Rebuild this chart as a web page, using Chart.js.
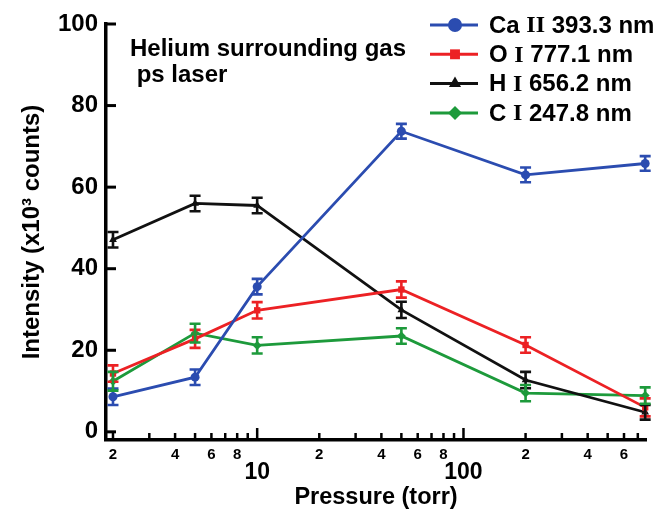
<!DOCTYPE html>
<html>
<head>
<meta charset="utf-8">
<script src="https://cdn.jsdelivr.net/npm/chart.js@4.4.1/dist/chart.umd.min.js"></script>
<style>
  html, body { margin: 0; padding: 0; background: #fff; }
  #wrap { width: 660px; height: 514px; position: relative; }
</style>
</head>
<body>
<div id="wrap"><canvas id="pressureChart" width="660" height="514"></canvas></div>
<script>
// Data
const pressure = [2, 5, 10, 50, 200, 760];
const caII = [8.6, 13.4, 35.6, 73.7, 63.0, 65.8];
const caErr = [2.0, 1.9, 1.9, 1.8, 1.8, 1.8];
const oI = [14.3, 22.8, 29.8, 34.9, 21.3, 6.0];
const oErr = [2.0, 2.2, 2.0, 2.0, 1.9, 2.2];
const hI = [47.1, 56.0, 55.5, 29.9, 12.7, 4.8];
const hErr = [1.9, 1.9, 1.9, 2.0, 2.0, 1.8];
const cI = [12.4, 24.2, 21.2, 23.5, 9.5, 8.9];
const cErr = [2.3, 2.3, 2.0, 1.9, 2.0, 2.0];
const seriesNames = ['Ca II 393.3 nm', 'O I 777.1 nm', 'H I 656.2 nm', 'C I 247.8 nm'];
const yTicks = [0, 20, 40, 60, 80, 100];
const xTicks = [2, 3, 4, 5, 6, 7, 8, 9, 10, 20, 30, 40, 50, 60, 70, 80, 90, 100, 200, 300, 400, 500, 600, 700];
const xSmallLabels = { 2: '2', 4: '4', 6: '6', 8: '8', 20: '2', 40: '4', 60: '6', 80: '8', 200: '2', 400: '4', 600: '6' };
const xDecadeLabels = [10, 100];
const noteLines = ['Helium surrounding gas', ' ps laser'];

const SANS = '"Liberation Sans", Arial, sans-serif';
const SERIF = '"Liberation Serif", "Times New Roman", serif';

const colors = ['#2b4cb0', '#ec2124', '#111111', '#1d9a3b'];
const styles = ['circle', 'rect', 'triangle', 'rectRot'];
const values = [caII, oI, hI, cI];
const errors = [caErr, oErr, hErr, cErr];

const datasets = values.map((v, i) => ({
  label: seriesNames[i],
  data: pressure.map((p, j) => ({ x: p, y: v[j] })),
  borderColor: colors[i],
  backgroundColor: colors[i],
  borderWidth: 2.8,
  pointStyle: styles[i],
  pointRadius: 4.5,
  pointBorderWidth: 0,
  errs: errors[i],
  tension: 0,
  clip: false
}));

// draws ticks inward, decade labels, note, legend and error bars
const decorations = {
  id: 'decorations',
  afterDatasetsDraw(chart) {
    const ctx = chart.ctx;
    const xs = chart.scales.x, ys = chart.scales.y;
    ctx.save();
    chart.data.datasets.forEach((ds) => {
      ctx.strokeStyle = ds.borderColor;
      ctx.lineWidth = 2.6;
      ds.data.forEach((pt, j) => {
        const e = ds.errs[j];
        const px = xs.getPixelForValue(pt.x);
        const y1 = ys.getPixelForValue(pt.y + e);
        const y2 = ys.getPixelForValue(pt.y - e);
        ctx.beginPath();
        ctx.moveTo(px, y1); ctx.lineTo(px, y2);
        ctx.moveTo(px - 5.5, y1); ctx.lineTo(px + 5.5, y1);
        ctx.moveTo(px - 5.5, y2); ctx.lineTo(px + 5.5, y2);
        ctx.stroke();
      });
    });
    ctx.restore();
  },
  afterDraw(chart) {
    const ctx = chart.ctx;
    const xs = chart.scales.x, ys = chart.scales.y;
    const area = chart.chartArea;
    ctx.save();
    ctx.strokeStyle = '#000';
    ctx.lineWidth = 3;
    yTicks.forEach(v => {
      const py = ys.getPixelForValue(v);
      ctx.beginPath();
      ctx.moveTo(area.left, py); ctx.lineTo(area.left + 10, py);
      ctx.stroke();
    });
    ctx.lineWidth = 2.5;
    xTicks.forEach(v => {
      const px = xs.getPixelForValue(v);
      const len = xDecadeLabels.includes(v) ? 12 : 7;
      ctx.beginPath();
      ctx.moveTo(px, area.bottom); ctx.lineTo(px, area.bottom - len);
      ctx.stroke();
    });
    ctx.fillStyle = '#000';
    ctx.font = 'bold 23px ' + SANS;
    ctx.textAlign = 'center';
    ctx.textBaseline = 'middle';
    xDecadeLabels.forEach(v => {
      ctx.fillText(String(v), xs.getPixelForValue(v), 473);
    });

    // note text
    ctx.textAlign = 'left';
    ctx.textBaseline = 'alphabetic';
    ctx.font = 'bold 24px ' + SANS;
    ctx.fillText(noteLines[0], 130, 56);
    ctx.fillText(noteLines[1], 130, 82);

    // legend
    chart.data.datasets.forEach((ds, i) => {
      const cy = 25 + i * 29.3;
      ctx.strokeStyle = ds.borderColor;
      ctx.fillStyle = ds.borderColor;
      ctx.lineWidth = 3;
      ctx.beginPath();
      ctx.moveTo(430, cy); ctx.lineTo(478, cy);
      ctx.stroke();
      Chart.helpers.drawPoint(ctx, { pointStyle: ds.pointStyle, radius: 7, rotation: 0, borderWidth: 0 }, 455, cy);
      ctx.fillStyle = '#000';
      ctx.textBaseline = 'middle';
      const parts = ds.label.split(/\b(II|I)\b/);
      let tx = 489;
      parts.forEach(part => {
        const roman = part === 'I' || part === 'II';
        ctx.font = roman ? 'bold 24px ' + SERIF : 'bold 24px ' + SANS;
        ctx.fillText(part, tx, cy + 1);
        tx += ctx.measureText(part).width;
      });
    });
    ctx.restore();
  }
};

new Chart(document.getElementById('pressureChart'), {
  type: 'line',
  data: { datasets },
  plugins: [decorations],
  options: {
    responsive: false,
    animation: false,
    layout: { padding: { left: 6, right: 14, top: 24, bottom: 2 } },
    plugins: { legend: { display: false }, tooltip: { enabled: false } },
    scales: {
      x: {
        type: 'logarithmic',
        min: 1.85,
        max: 767,
        afterBuildTicks: s => { s.ticks = xTicks.map(v => ({ value: v })); },
        afterFit: s => { s.height = 514 - 2 - 440; },
        grid: { display: false },
        border: { display: true, color: '#000', width: 3.5 },
        ticks: {
          autoSkip: false,
          maxRotation: 0,
          padding: -2,
          color: '#000',
          font: { family: SANS, size: 15, weight: 'bold' },
          callback: v => xSmallLabels[v] || ''
        },
        title: {
          display: true,
          text: 'Pressure (torr)',
          color: '#000',
          font: { family: SANS, size: 23.5, weight: 'bold' },
          padding: { top: 0, bottom: 0 }
        }
      },
      y: {
        min: -2,
        max: 100,
        afterBuildTicks: s => { s.ticks = yTicks.map(v => ({ value: v })); },
        afterFit: s => { s.width = 106 - 6; },
        grid: { display: false },
        border: { display: true, color: '#000', width: 3.5 },
        ticks: {
          padding: 0,
          color: '#000',
          font: { family: SANS, size: 24, weight: 'bold' }
        },
        title: {
          display: true,
          text: 'Intensity (x10³ counts)',
          color: '#000',
          font: { family: SANS, size: 24, weight: 'bold' },
          padding: { top: 12, bottom: 0 }
        }
      }
    }
  }
});
</script>
</body>
</html>
